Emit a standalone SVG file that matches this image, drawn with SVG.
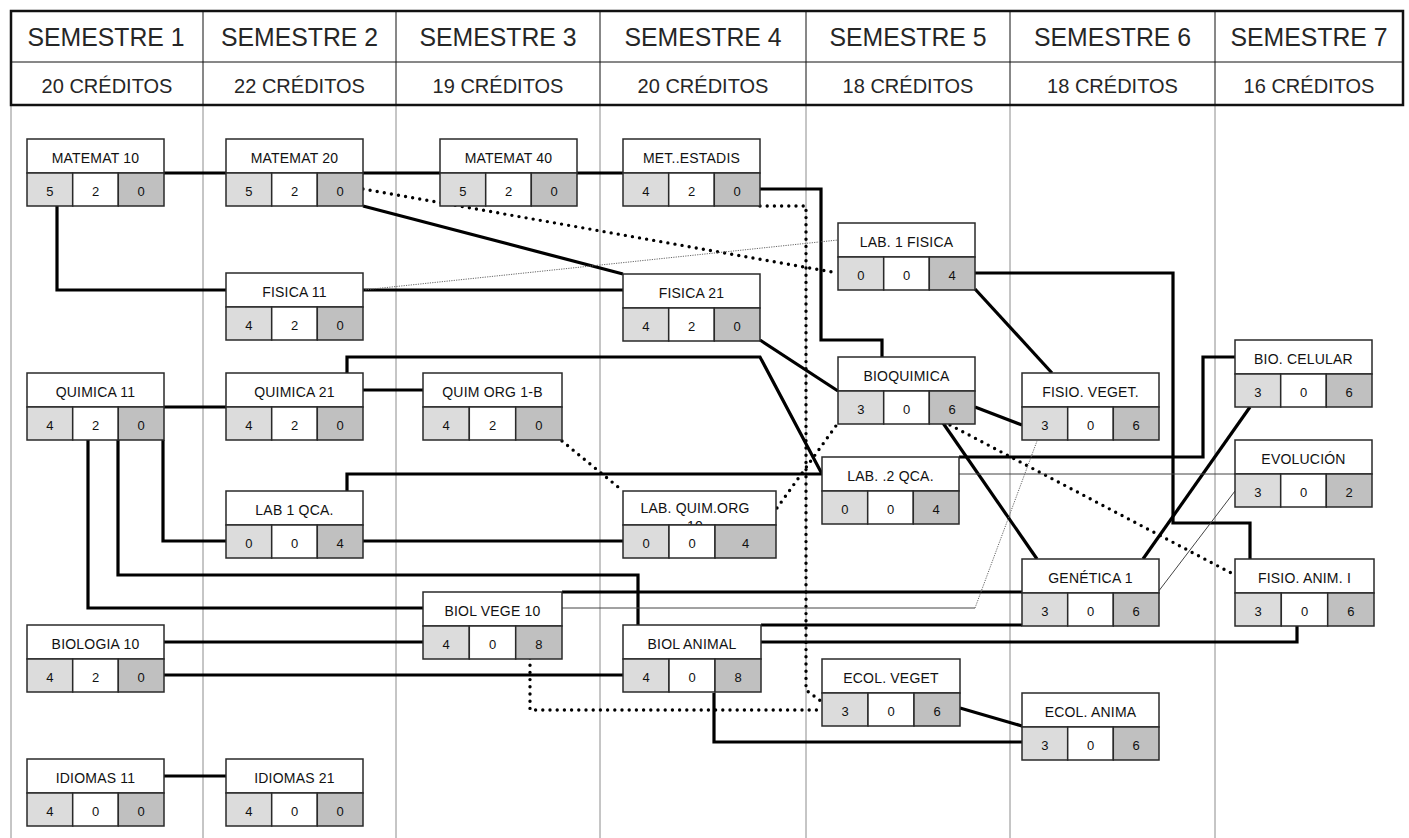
<svg xmlns="http://www.w3.org/2000/svg" width="1409" height="838" viewBox="0 0 1409 838">
<style>
.grid{stroke:#8c8c8c;stroke-width:1;fill:none}
.hd{stroke:#111;stroke-width:1;fill:none}
.frame{stroke:#111;stroke-width:2.5;fill:none}
.h1{font-family:"Liberation Sans",Arial,sans-serif;font-size:26px;fill:#262626;text-anchor:middle}
.h2{font-family:"Liberation Sans",Arial,sans-serif;font-size:20px;fill:#262626;text-anchor:middle}
.k{stroke:#000;stroke-width:3.2;fill:none;stroke-linejoin:miter}
.d{stroke:#000;stroke-width:3.4;fill:none;stroke-linecap:round;stroke-dasharray:0 7.2}
.t{stroke:#444;stroke-width:1;fill:none}
.td{stroke:#666;stroke-width:1;fill:none;stroke-dasharray:1.2 1.2}
.bx{fill:#fff;stroke:#2a2a2a;stroke-width:1.5}
.c1{fill:#dcdcdc;stroke:#2a2a2a;stroke-width:1.5}
.c2{fill:#fff;stroke:#2a2a2a;stroke-width:1.5}
.c3{fill:#c0c0c0;stroke:#2a2a2a;stroke-width:1.5}
.tt{font-family:"Liberation Sans",Arial,sans-serif;font-size:14px;fill:#111;text-anchor:middle;letter-spacing:0.2px}
.nm{font-family:"Liberation Sans",Arial,sans-serif;font-size:13px;fill:#111;text-anchor:middle}
</style>

<g id="grid">
<path class="grid" d="M11 105V838M203 105V838M396 105V838M600 105V838M806 105V838M1010 105V838M1215 105V838"/>
</g>

<g id="header">
<rect class="frame" x="11" y="11" width="1392" height="94" fill="#fff"/>
<path class="hd" d="M11 62H1403M203 11V105M396 11V105M600 11V105M806 11V105M1010 11V105M1215 11V105"/>
<text class="h1" x="106" y="46" textLength="157" lengthAdjust="spacingAndGlyphs">SEMESTRE 1</text>
<text class="h1" x="299.5" y="46" textLength="157" lengthAdjust="spacingAndGlyphs">SEMESTRE 2</text>
<text class="h1" x="498" y="46" textLength="157" lengthAdjust="spacingAndGlyphs">SEMESTRE 3</text>
<text class="h1" x="703" y="46" textLength="157" lengthAdjust="spacingAndGlyphs">SEMESTRE 4</text>
<text class="h1" x="908" y="46" textLength="157" lengthAdjust="spacingAndGlyphs">SEMESTRE 5</text>
<text class="h1" x="1112.5" y="46" textLength="157" lengthAdjust="spacingAndGlyphs">SEMESTRE 6</text>
<text class="h1" x="1309" y="46" textLength="157" lengthAdjust="spacingAndGlyphs">SEMESTRE 7</text>
<text class="h2" x="107" y="93">20 CRÉDITOS</text>
<text class="h2" x="299.5" y="93">22 CRÉDITOS</text>
<text class="h2" x="498" y="93">19 CRÉDITOS</text>
<text class="h2" x="703" y="93">20 CRÉDITOS</text>
<text class="h2" x="908" y="93">18 CRÉDITOS</text>
<text class="h2" x="1112.5" y="93">18 CRÉDITOS</text>
<text class="h2" x="1309" y="93">16 CRÉDITOS</text>
</g>

<g id="connectors">
<path class="k" d="M163 173H226M363 173H440M577 173H623"/>
<path class="k" d="M760 189H821V340H882V357"/>
<path class="k" d="M57 206V290H226"/>
<path class="k" d="M363 206L623 274"/>
<path class="k" d="M363 290H623"/>
<path class="k" d="M975 289L1052 373"/>
<path class="k" d="M975 273H1173V523H1250V559"/>
<path class="k" d="M760 340L838 391"/>
<path class="k" d="M163 407H226"/>
<path class="k" d="M363 390H423"/>
<path class="k" d="M347 373V357H760L822 474"/>
<path class="k" d="M347 491V474H822"/>
<path class="k" d="M163 440V541H226"/>
<path class="k" d="M363 541H623"/>
<path class="k" d="M118 440V575H638V625"/>
<path class="k" d="M88 440V608H423"/>
<path class="k" d="M163 642H423"/>
<path class="k" d="M163 675H623"/>
<path class="k" d="M975 407L1022 425"/>
<path class="k" d="M943 423L1037 559"/>
<path class="k" d="M959 457H1203V357H1235"/>
<path class="k" d="M1250 407L1143 559"/>
<path class="k" d="M562 592H1022"/>
<path class="k" d="M761 625H1022"/>
<path class="k" d="M761 642H1297V625"/>
<path class="k" d="M714 693V742H1022"/>
<path class="k" d="M960 708L1022 726"/>
<path class="k" d="M163 776H226"/>
<path class="d" d="M363 189L838 273"/>
<path class="d" d="M760 206H806V690L822 702"/>
<path class="d" d="M562 441L623 491"/>
<path class="d" d="M777 508L838 423"/>
<path class="d" d="M950 425L1235 575"/>
<path class="d" d="M530 658V710H822"/>
<path class="t" d="M959 474H1235"/>
<path class="t" d="M562 608H975"/>
<path class="t" d="M1158 592L1235 491"/>
<path class="td" d="M363 290L838 240"/>
<path class="td" d="M975 608L1037 441"/>
</g>

<g id="matemat10" transform="translate(27,139)"><rect class="bx" width="137" height="34"/><rect class="c1" y="34" width="45.7" height="33"/><rect class="c2" x="45.7" y="34" width="45.6" height="33"/><rect class="c3" x="91.3" y="34" width="45.7" height="33"/><text class="tt" x="68.5" y="24">MATEMAT 10</text><text class="nm" x="22.8" y="57">5</text><text class="nm" x="68.5" y="57">2</text><text class="nm" x="114.2" y="57">0</text></g>
<g id="matemat20" transform="translate(226,139)"><rect class="bx" width="137" height="34"/><rect class="c1" y="34" width="45.7" height="33"/><rect class="c2" x="45.7" y="34" width="45.6" height="33"/><rect class="c3" x="91.3" y="34" width="45.7" height="33"/><text class="tt" x="68.5" y="24">MATEMAT 20</text><text class="nm" x="22.8" y="57">5</text><text class="nm" x="68.5" y="57">2</text><text class="nm" x="114.2" y="57">0</text></g>
<g id="matemat40" transform="translate(440,139)"><rect class="bx" width="137" height="34"/><rect class="c1" y="34" width="45.7" height="33"/><rect class="c2" x="45.7" y="34" width="45.6" height="33"/><rect class="c3" x="91.3" y="34" width="45.7" height="33"/><text class="tt" x="68.5" y="24">MATEMAT 40</text><text class="nm" x="22.8" y="57">5</text><text class="nm" x="68.5" y="57">2</text><text class="nm" x="114.2" y="57">0</text></g>
<g id="metestadis" transform="translate(623,139)"><rect class="bx" width="137" height="34"/><rect class="c1" y="34" width="45.7" height="33"/><rect class="c2" x="45.7" y="34" width="45.6" height="33"/><rect class="c3" x="91.3" y="34" width="45.7" height="33"/><text class="tt" x="68.5" y="24">MET..ESTADIS</text><text class="nm" x="22.8" y="57">4</text><text class="nm" x="68.5" y="57">2</text><text class="nm" x="114.2" y="57">0</text></g>
<g id="lab1fisica" transform="translate(838,223)"><rect class="bx" width="137" height="34"/><rect class="c1" y="34" width="45.7" height="33"/><rect class="c2" x="45.7" y="34" width="45.6" height="33"/><rect class="c3" x="91.3" y="34" width="45.7" height="33"/><text class="tt" x="68.5" y="24">LAB. 1 FISICA</text><text class="nm" x="22.8" y="57">0</text><text class="nm" x="68.5" y="57">0</text><text class="nm" x="114.2" y="57">4</text></g>
<g id="fisica11" transform="translate(226,273)"><rect class="bx" width="137" height="34"/><rect class="c1" y="34" width="45.7" height="33"/><rect class="c2" x="45.7" y="34" width="45.6" height="33"/><rect class="c3" x="91.3" y="34" width="45.7" height="33"/><text class="tt" x="68.5" y="24">FISICA 11</text><text class="nm" x="22.8" y="57">4</text><text class="nm" x="68.5" y="57">2</text><text class="nm" x="114.2" y="57">0</text></g>
<g id="fisica21" transform="translate(623,274)"><rect class="bx" width="137" height="34"/><rect class="c1" y="34" width="45.7" height="33"/><rect class="c2" x="45.7" y="34" width="45.6" height="33"/><rect class="c3" x="91.3" y="34" width="45.7" height="33"/><text class="tt" x="68.5" y="24">FISICA 21</text><text class="nm" x="22.8" y="57">4</text><text class="nm" x="68.5" y="57">2</text><text class="nm" x="114.2" y="57">0</text></g>
<g id="quimica11" transform="translate(27,373)"><rect class="bx" width="137" height="34"/><rect class="c1" y="34" width="45.7" height="33"/><rect class="c2" x="45.7" y="34" width="45.6" height="33"/><rect class="c3" x="91.3" y="34" width="45.7" height="33"/><text class="tt" x="68.5" y="24">QUIMICA 11</text><text class="nm" x="22.8" y="57">4</text><text class="nm" x="68.5" y="57">2</text><text class="nm" x="114.2" y="57">0</text></g>
<g id="quimica21" transform="translate(226,373)"><rect class="bx" width="137" height="34"/><rect class="c1" y="34" width="45.7" height="33"/><rect class="c2" x="45.7" y="34" width="45.6" height="33"/><rect class="c3" x="91.3" y="34" width="45.7" height="33"/><text class="tt" x="68.5" y="24">QUIMICA 21</text><text class="nm" x="22.8" y="57">4</text><text class="nm" x="68.5" y="57">2</text><text class="nm" x="114.2" y="57">0</text></g>
<g id="quimorg1b" transform="translate(423,373)"><rect class="bx" width="139" height="34"/><rect class="c1" y="34" width="46.3" height="33"/><rect class="c2" x="46.3" y="34" width="46.4" height="33"/><rect class="c3" x="92.7" y="34" width="46.3" height="33"/><text class="tt" x="69.5" y="24">QUIM ORG 1-B</text><text class="nm" x="23.2" y="57">4</text><text class="nm" x="69.5" y="57">2</text><text class="nm" x="115.8" y="57">0</text></g>
<g id="bioquimica" transform="translate(838,357)"><rect class="bx" width="137" height="34"/><rect class="c1" y="34" width="45.7" height="33"/><rect class="c2" x="45.7" y="34" width="45.6" height="33"/><rect class="c3" x="91.3" y="34" width="45.7" height="33"/><text class="tt" x="68.5" y="24">BIOQUIMICA</text><text class="nm" x="22.8" y="57">3</text><text class="nm" x="68.5" y="57">0</text><text class="nm" x="114.2" y="57">6</text></g>
<g id="fisioveget" transform="translate(1022,373)"><rect class="bx" width="137" height="34"/><rect class="c1" y="34" width="45.7" height="33"/><rect class="c2" x="45.7" y="34" width="45.6" height="33"/><rect class="c3" x="91.3" y="34" width="45.7" height="33"/><text class="tt" x="68.5" y="24">FISIO. VEGET.</text><text class="nm" x="22.8" y="57">3</text><text class="nm" x="68.5" y="57">0</text><text class="nm" x="114.2" y="57">6</text></g>
<g id="biocelular" transform="translate(1235,340)"><rect class="bx" width="137" height="34"/><rect class="c1" y="34" width="45.7" height="33"/><rect class="c2" x="45.7" y="34" width="45.6" height="33"/><rect class="c3" x="91.3" y="34" width="45.7" height="33"/><text class="tt" x="68.5" y="24">BIO. CELULAR</text><text class="nm" x="22.8" y="57">3</text><text class="nm" x="68.5" y="57">0</text><text class="nm" x="114.2" y="57">6</text></g>
<g id="lab2qca" transform="translate(822,457)"><rect class="bx" width="137" height="34"/><rect class="c1" y="34" width="45.7" height="33"/><rect class="c2" x="45.7" y="34" width="45.6" height="33"/><rect class="c3" x="91.3" y="34" width="45.7" height="33"/><text class="tt" x="68.5" y="24">LAB. .2 QCA.</text><text class="nm" x="22.8" y="57">0</text><text class="nm" x="68.5" y="57">0</text><text class="nm" x="114.2" y="57">4</text></g>
<g id="evolucion" transform="translate(1235,440)"><rect class="bx" width="137" height="34"/><rect class="c1" y="34" width="45.7" height="33"/><rect class="c2" x="45.7" y="34" width="45.6" height="33"/><rect class="c3" x="91.3" y="34" width="45.7" height="33"/><text class="tt" x="68.5" y="24">EVOLUCIÓN</text><text class="nm" x="22.8" y="57">3</text><text class="nm" x="68.5" y="57">0</text><text class="nm" x="114.2" y="57">2</text></g>
<g id="lab1qca" transform="translate(226,491)"><rect class="bx" width="137" height="34"/><rect class="c1" y="34" width="45.7" height="33"/><rect class="c2" x="45.7" y="34" width="45.6" height="33"/><rect class="c3" x="91.3" y="34" width="45.7" height="33"/><text class="tt" x="68.5" y="24">LAB 1 QCA.</text><text class="nm" x="22.8" y="57">0</text><text class="nm" x="68.5" y="57">0</text><text class="nm" x="114.2" y="57">4</text></g>
<g id="labquimorg" transform="translate(623,491)"><rect class="bx" width="153" height="34"/><text class="tt" x="72" y="22">LAB. QUIM.ORG</text><text class="tt" x="72" y="39.5">10</text><rect class="c1" y="34" width="46" height="33"/><rect class="c2" x="46" y="34" width="46" height="33"/><rect class="c3" x="92" y="34" width="61" height="33"/><text class="nm" x="23" y="57">0</text><text class="nm" x="69" y="57">0</text><text class="nm" x="122.5" y="57">4</text></g>
<g id="genetica1" transform="translate(1022,559)"><rect class="bx" width="137" height="34"/><rect class="c1" y="34" width="45.7" height="33"/><rect class="c2" x="45.7" y="34" width="45.6" height="33"/><rect class="c3" x="91.3" y="34" width="45.7" height="33"/><text class="tt" x="68.5" y="24">GENÉTICA 1</text><text class="nm" x="22.8" y="57">3</text><text class="nm" x="68.5" y="57">0</text><text class="nm" x="114.2" y="57">6</text></g>
<g id="fisioanim1" transform="translate(1235,559)"><rect class="bx" width="139" height="34"/><rect class="c1" y="34" width="46.3" height="33"/><rect class="c2" x="46.3" y="34" width="46.4" height="33"/><rect class="c3" x="92.7" y="34" width="46.3" height="33"/><text class="tt" x="69.5" y="24">FISIO. ANIM. I</text><text class="nm" x="23.2" y="57">3</text><text class="nm" x="69.5" y="57">0</text><text class="nm" x="115.8" y="57">6</text></g>
<g id="biolvege10" transform="translate(423,592)"><rect class="bx" width="139" height="34"/><rect class="c1" y="34" width="46.3" height="33"/><rect class="c2" x="46.3" y="34" width="46.4" height="33"/><rect class="c3" x="92.7" y="34" width="46.3" height="33"/><text class="tt" x="69.5" y="24">BIOL VEGE 10</text><text class="nm" x="23.2" y="57">4</text><text class="nm" x="69.5" y="57">0</text><text class="nm" x="115.8" y="57">8</text></g>
<g id="biologia10" transform="translate(27,625)"><rect class="bx" width="137" height="34"/><rect class="c1" y="34" width="45.7" height="33"/><rect class="c2" x="45.7" y="34" width="45.6" height="33"/><rect class="c3" x="91.3" y="34" width="45.7" height="33"/><text class="tt" x="68.5" y="24">BIOLOGIA 10</text><text class="nm" x="22.8" y="57">4</text><text class="nm" x="68.5" y="57">2</text><text class="nm" x="114.2" y="57">0</text></g>
<g id="biolanimal" transform="translate(623,625)"><rect class="bx" width="138" height="34"/><rect class="c1" y="34" width="46" height="33"/><rect class="c2" x="46" y="34" width="46" height="33"/><rect class="c3" x="92" y="34" width="46" height="33"/><text class="tt" x="69" y="24">BIOL ANIMAL</text><text class="nm" x="23" y="57">4</text><text class="nm" x="69" y="57">0</text><text class="nm" x="115" y="57">8</text></g>
<g id="ecolveget" transform="translate(822,659)"><rect class="bx" width="138" height="34"/><rect class="c1" y="34" width="46" height="33"/><rect class="c2" x="46" y="34" width="46" height="33"/><rect class="c3" x="92" y="34" width="46" height="33"/><text class="tt" x="69" y="24">ECOL. VEGET</text><text class="nm" x="23" y="57">3</text><text class="nm" x="69" y="57">0</text><text class="nm" x="115" y="57">6</text></g>
<g id="ecolanima" transform="translate(1022,693)"><rect class="bx" width="137" height="34"/><rect class="c1" y="34" width="45.7" height="33"/><rect class="c2" x="45.7" y="34" width="45.6" height="33"/><rect class="c3" x="91.3" y="34" width="45.7" height="33"/><text class="tt" x="68.5" y="24">ECOL. ANIMA</text><text class="nm" x="22.8" y="57">3</text><text class="nm" x="68.5" y="57">0</text><text class="nm" x="114.2" y="57">6</text></g>
<g id="idiomas11" transform="translate(27,759)"><rect class="bx" width="137" height="34"/><rect class="c1" y="34" width="45.7" height="33"/><rect class="c2" x="45.7" y="34" width="45.6" height="33"/><rect class="c3" x="91.3" y="34" width="45.7" height="33"/><text class="tt" x="68.5" y="24">IDIOMAS 11</text><text class="nm" x="22.8" y="57">4</text><text class="nm" x="68.5" y="57">0</text><text class="nm" x="114.2" y="57">0</text></g>
<g id="idiomas21" transform="translate(226,759)"><rect class="bx" width="137" height="34"/><rect class="c1" y="34" width="45.7" height="33"/><rect class="c2" x="45.7" y="34" width="45.6" height="33"/><rect class="c3" x="91.3" y="34" width="45.7" height="33"/><text class="tt" x="68.5" y="24">IDIOMAS 21</text><text class="nm" x="22.8" y="57">4</text><text class="nm" x="68.5" y="57">0</text><text class="nm" x="114.2" y="57">0</text></g>
</svg>
